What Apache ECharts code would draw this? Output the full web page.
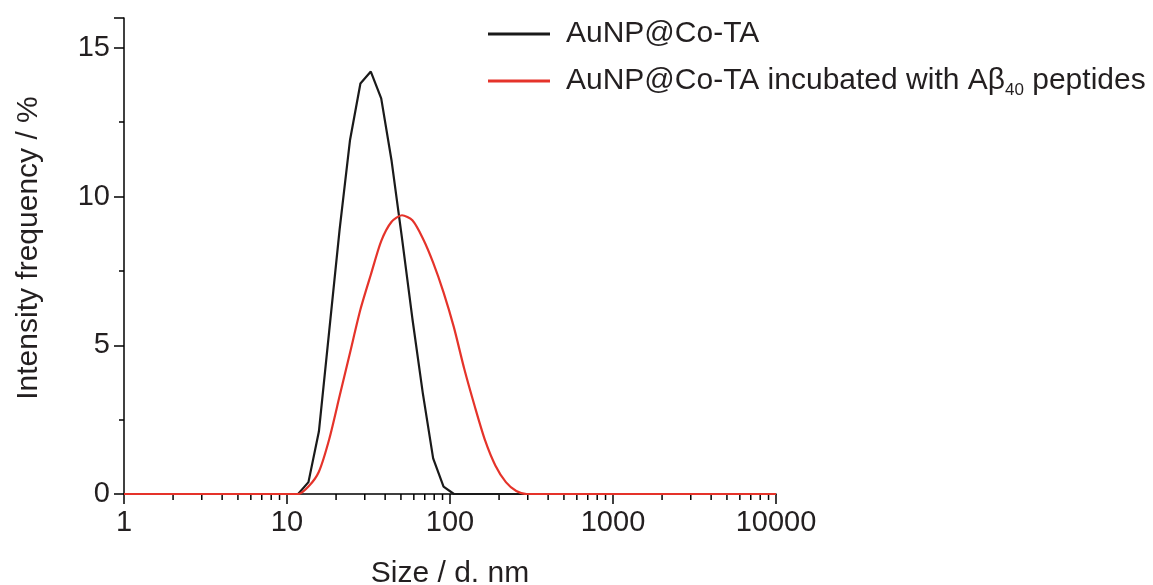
<!DOCTYPE html>
<html>
<head>
<meta charset="utf-8">
<script src="https://cdn.jsdelivr.net/npm/echarts@6/dist/echarts.min.js"></script>
<style>
html,body{margin:0;padding:0;background:#fff;}
#c{width:1153px;height:585px;}
</style>
</head>
<body>
<div id="c"></div>
<script>
// DLS size bins (nm)
var sizes = [1, 11.7, 13.54, 15.69, 18.17, 21.04, 24.36, 28.21, 32.67, 37.84, 43.82, 50.75, 58.77, 68.06, 78.82, 91.28, 105.7, 122.4, 141.8, 164.2, 190.1, 220.2, 255.0, 295.3, 342.0, 10000];
// Intensity frequency (%)
var seriesNames = ['AuNP@Co-TA', 'AuNP@Co-TA incubated with A\u03b240 peptides'];
var bare = [0, 0, 0.4, 2.1, 5.5, 8.9, 11.9, 13.8, 14.2, 13.3, 11.2, 8.6, 5.9, 3.4, 1.2, 0.25, 0, 0, 0, 0, 0, 0, 0, 0, 0, 0];
var withPeptide = [0, 0, 0.25, 0.75, 1.85, 3.3, 4.75, 6.2, 7.37, 8.5, 9.15, 9.37, 9.2, 8.6, 7.78, 6.78, 5.6, 4.2, 2.95, 1.8, 0.95, 0.4, 0.1, 0, 0, 0];
var xTickLabels = ['1', '10', '100', '1000', '10000'];
var yTickLabels = ['0', '5', '10', '15'];
// minor tick positions on log axis
var xMinorTicks = [];
[1, 10, 100, 1000].forEach(function (d) { for (var k = 2; k <= 9; k++) xMinorTicks.push(k * d); });

function pairs(vals) { return sizes.map(function (s, i) { return [s, vals[i]]; }); }

var FONT = 'Liberation Sans, Arial, sans-serif';
var TXT = '#231f20';
var chart = echarts.init(document.getElementById('c'), null, {renderer: 'canvas'});
chart.setOption({
  animation: false,
  backgroundColor: '#ffffff',
  grid: {left: 124, right: 377, top: 18, bottom: 91, containLabel: false, outerBoundsMode: 'none'},
  legend: {
    orient: 'vertical', left: 488, top: 19, padding: 0,
    itemWidth: 62, itemHeight: 3, itemGap: 17, icon: 'rect',
    textStyle: {fontFamily: FONT, fontSize: 30, color: TXT, padding: [0, 0, 0, 11],
      rich: {sub: {fontFamily: FONT, fontSize: 17, color: TXT, padding: [19, 0, 0, 0]}}},
    formatter: function (name) { return name.replace('A\u03b240', 'A\u03b2{sub|40}'); },
    data: seriesNames
  },
  xAxis: {
    type: 'log', logBase: 10, min: 1, max: 10000,
    name: 'Size / d. nm', nameLocation: 'middle', nameGap: 65,
    nameTextStyle: {fontFamily: FONT, fontSize: 30, color: TXT},
    axisLine: {onZero: false, lineStyle: {color: '#000', width: 1.5}},
    axisTick: {show: true, length: 10, lineStyle: {color: '#000', width: 1.5}},
    axisLabel: {fontFamily: FONT, fontSize: 29, color: TXT, margin: 14,
      formatter: function (v) { var l = Math.round(Math.log10(v)); return xTickLabels[l]; }},
    splitLine: {show: false}, minorTick: {show: false}
  },
  yAxis: {
    type: 'value', min: 0, max: 16, interval: 5,
    name: 'Intensity frequency / %', nameLocation: 'middle', nameGap: 80, nameRotate: 90,
    nameTextStyle: {fontFamily: FONT, fontSize: 30, color: TXT, padding: [0, 0, 0, 16]},
    axisLine: {show: true, lineStyle: {color: '#000', width: 1.5}},
    axisTick: {show: true, length: 10, lineStyle: {color: '#000', width: 1.5}},
    minorTick: {show: true, splitNumber: 2, length: 5, lineStyle: {color: '#000', width: 1.5}},
    axisLabel: {fontFamily: FONT, fontSize: 29, color: TXT, margin: 14,
      formatter: function (v) { return yTickLabels[v / 5]; }},
    splitLine: {show: false}
  },
  series: [
    {
      type: 'custom', silent: true, clip: false, z: 1,
      data: xMinorTicks.map(function (v) { return [v, 0]; }),
      renderItem: function (params, api) {
        var p = api.coord([api.value(0), 0]);
        return {type: 'line', shape: {x1: p[0], y1: p[1], x2: p[0], y2: p[1] + 6},
          style: {stroke: '#000', lineWidth: 1.5}};
      }
    },
    {name: seriesNames[0], type: 'line', data: pairs(bare), showSymbol: false, symbol: 'none',
      lineStyle: {color: '#1a1a1a', width: 2.2}, itemStyle: {color: '#1a1a1a'}, z: 3},
    {name: seriesNames[1], type: 'line', data: pairs(withPeptide), showSymbol: false, symbol: 'none',
      smooth: 0.25,
      lineStyle: {color: '#e5332a', width: 2.2}, itemStyle: {color: '#e5332a'}, z: 4}
  ]
});
</script>
</body>
</html>
